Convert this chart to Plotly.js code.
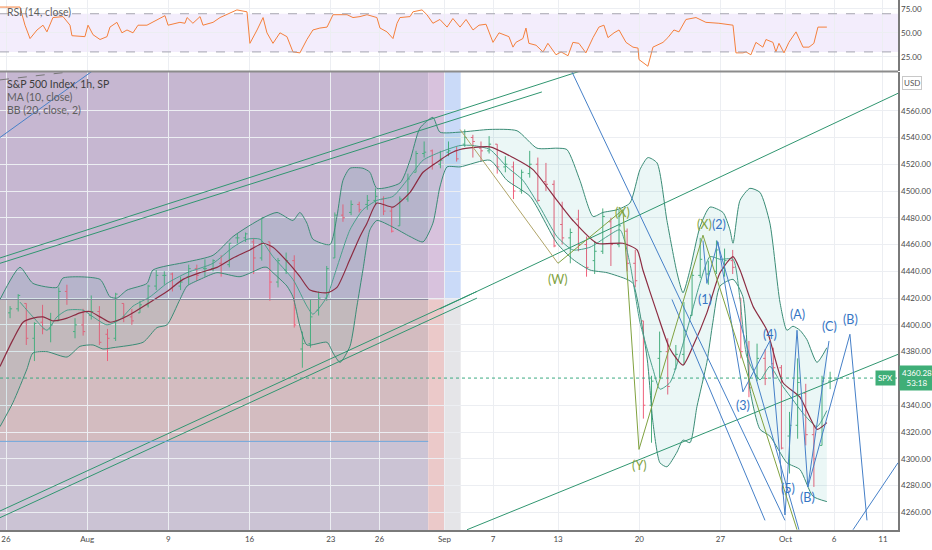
<!DOCTYPE html>
<html>
<head>
<meta charset="utf-8">
<script src="https://cdn.plot.ly/plotly-3.0.1.min.js"></script>
<style>
  html, body { margin: 0; padding: 0; background: #fff; }
  #chart { width: 932px; height: 550px; }
</style>
</head>
<body>
<div id="chart"></div>
<script>
// trading-day axis: 0 = Jul 26 ... 54 = Oct 11 (weekends and Sep 6 left out)
var tickDays = [0, 5, 10, 15, 20, 23, 27, 30, 34, 39, 44, 48, 51, 54];
var tickText = ['26', 'Aug', '9', '16', '23', '26', 'Sep', '7', '13', '20', '27', 'Oct', '6', '11'];
// price labels on the right (4360 sits under the price tag, 4580 under the USD badge)
var priceTicks = [4260, 4280, 4300, 4320, 4340, 4380, 4400, 4420, 4440, 4460, 4480, 4500, 4520, 4540, 4560];
var rsiTicks = [25, 50, 75];

// half-day bars, two per trading day from Jul 26 to Oct 5
var barOpen = [4409,4412, 4416,4390, 4402,4397, 4403,4425, 4395,4400, 4407,4410, 4393,4390, 4416,4406, 4409,4415, 4429,4437,
  4438,4429, 4436,4442, 4442,4442, 4446,4445, 4465,4465, 4462,4450, 4462,4432, 4441,4448, 4382,4386, 4411,4420,
  4450,4482, 4484,4490, 4490,4493, 4494,4485, 4474,4494, 4514,4528, 4530,4520, 4529,4530, 4535,4540, 4532,4530,
  4535,4518, 4518,4500, 4513,4520, 4507,4505, 4475,4465, 4479,4460, 4448,4455, 4477,4460, 4470,4446, 4403,4340,
  4375,4380, 4367,4378, 4407,4437, 4438,4440, 4442,4448, 4420,4380, 4362,4375, 4371,4368, 4317,4325, 4349,4318,
  4310,4358];
var barHigh = [4414,4423, 4416,4402, 4415,4409, 4428,4430, 4405,4412, 4422,4414, 4397,4424, 4416,4412, 4418,4430, 4441,4440,
  4439,4436, 4445,4445, 4449,4449, 4452,4461, 4468,4469, 4465,4480, 4462,4450, 4454,4452, 4395,4419, 4425,4444,
  4484,4490, 4493,4492, 4497,4502, 4496,4488, 4496,4513, 4530,4537, 4531,4530, 4537,4533, 4546,4542, 4537,4541,
  4535,4526, 4522,4516, 4530,4525, 4521,4508, 4492,4472, 4486,4466, 4462,4487, 4480,4486, 4472,4456, 4403,4362,
  4395,4390, 4385,4417, 4440,4465, 4448,4463, 4457,4456, 4420,4388, 4386,4382, 4383,4370, 4335,4375, 4356,4325,
  4362,4365];
var barLow = [4405,4410, 4385,4373, 4393,4387, 4403,4415, 4390,4392, 4404,4385, 4373,4388, 4402,4400, 4409,4413, 4426,4430,
  4425,4426, 4430,4433, 4436,4440, 4436,4443, 4461,4462, 4438,4448, 4418,4428, 4438,4398, 4368,4383, 4407,4418,
  4450,4477, 4482,4484, 4486,4490, 4482,4469, 4474,4492, 4514,4525, 4516,4517, 4526,4522, 4533,4525, 4522,4528,
  4513,4514, 4494,4498, 4510,4492, 4500,4458, 4460,4446, 4455,4436, 4438,4453, 4444,4458, 4440,4428, 4330,4312,
  4360,4348, 4367,4370, 4407,4435, 4430,4438, 4436,4438, 4375,4346, 4358,4355, 4360,4307, 4289,4315, 4310,4279,
  4310,4352];
var barClose = [4412,4422, 4390,4401, 4397,4400, 4425,4419, 4400,4395, 4410,4387, 4390,4423, 4406,4403, 4415,4429, 4437,4437,
  4429,4432, 4442,4437, 4442,4448, 4445,4461, 4465,4468, 4450,4480, 4432,4448, 4448,4400, 4386,4406, 4420,4442,
  4482,4480, 4490,4486, 4493,4496, 4485,4470, 4494,4509, 4528,4529, 4520,4523, 4530,4524, 4540,4537, 4530,4535,
  4518,4520, 4500,4514, 4520,4493, 4505,4459, 4465,4469, 4460,4443, 4455,4481, 4460,4474, 4446,4433, 4340,4358,
  4380,4354, 4378,4396, 4437,4449, 4440,4456, 4448,4443, 4380,4353, 4375,4360, 4368,4308, 4325,4357, 4318,4300,
  4358,4360.28];
var lastPrice = 4360.28;
var countdown = '53:18';

// indicators as [day, value]
var bbUpper = [[-0.37,4419],[0.86,4443],[1.66,4431],[3.14,4428],[3.51,4435],[5.79,4434],[6.4,4421],[6.83,4420],[7.45,4426],
  [8.68,4431],[9.05,4441],[11.15,4447],[12.75,4452],[13.98,4466],[14.84,4473],[15.83,4480],[16.69,4484],[17.67,4478],
  [18.1,4484],[18.53,4476],[18.9,4464],[19.95,4460],[20.38,4481],[20.75,4508],[21.18,4517],[21.98,4517],[22.41,4514],
  [22.84,4502],[24.26,4506],[24.88,4523],[25.49,4547],[26.29,4555],[26.72,4544],[27.96,4544],[29.8,4546],[31.47,4545],
  [32.7,4532],[33.93,4532],[34.54,4531],[35.34,4508],[36.15,4481],[36.76,4484],[37.62,4486],[38.42,4491],[39.04,4516],
  [39.53,4525],[40.09,4521],[40.7,4478],[41.32,4439],[41.69,4424],[42.12,4441],[42.73,4473],[43.35,4488],[44.15,4484],
  [44.58,4471],[44.77,4461],[45.2,4493],[45.81,4502],[46.43,4499],[47.04,4476],[47.66,4417],[48.09,4396],[48.46,4399],
  [48.89,4396],[49.32,4389],[49.94,4372],[50.55,4383]];
var bbLower = [[-0.37,4324],[0.43,4342],[1.29,4367],[1.66,4379],[2.52,4380],[3.76,4376],[4.56,4384],[5.36,4385],[5.97,4382],
  [6.59,4383],[8.44,4387],[9.3,4398],[9.91,4400],[10.71,4419],[11.15,4429],[11.95,4434],[12.99,4439],[14.41,4436],
  [15.83,4443],[16.07,4443],[16.44,4439],[17.3,4429],[17.67,4421],[18.1,4399],[18.53,4385],[19.77,4387],[20.14,4379],
  [20.57,4372],[21.18,4384],[21.61,4414],[21.98,4441],[22.41,4471],[22.84,4478],[23.83,4473],[24.88,4466],[25.68,4462],
  [26.29,4476],[26.72,4503],[27.16,4518],[27.96,4518],[29.8,4523],[30.85,4508],[32.27,4496],[33.93,4461],[34.91,4449],
  [35.96,4441],[37.01,4439],[38.24,4434],[38.61,4431],[39.47,4376],[39.84,4327],[40.27,4297],[40.7,4294],[41.32,4305],
  [41.69,4314],[42.12,4312],[42.55,4339],[43.16,4372],[43.53,4402],[43.97,4429],[44.77,4434],[45.38,4421],[45.81,4352],
  [46.43,4322],[47.04,4317],[48.09,4297],[48.89,4292],[49.69,4272],[50.55,4268]];
var bbBasis = [[-0.37,4369],[0.43,4389],[1.05,4402],[1.66,4405],[2.28,4406],[2.89,4403],[3.76,4405],[4.56,4409],[5.17,4410],
  [5.79,4406],[6.4,4402],[7.2,4405],[7.82,4409],[8.87,4417],[9.91,4425],[10.9,4434],[11.95,4439],[12.99,4443],
  [13.98,4450],[15.02,4456],[15.83,4461],[16.44,4458],[17.49,4445],[18.1,4436],[18.72,4426],[19.77,4424],[20.38,4428],
  [21.18,4449],[21.8,4466],[22.23,4476],[22.84,4491],[23.83,4488],[24.88,4499],[25.68,4514],[26.72,4523],[27.34,4528],
  [27.96,4531],[29.8,4533],[31.22,4525],[32.45,4516],[33.93,4493],[34.91,4478],[36.39,4461],[37.99,4461],[38.86,4456],
  [39.22,4441],[40.09,4409],[40.89,4382],[41.69,4370],[42.3,4384],[43.16,4409],[43.97,4439],[44.77,4451],[45.2,4441],
  [46.0,4414],[46.86,4396],[47.84,4357],[48.89,4346],[49.94,4322],[50.55,4327]];
var ma10 = [[0.86,4417],[1.66,4406],[2.52,4396],[3.14,4406],[3.76,4411],[4.74,4411],[5.36,4406],[6.22,4400],[7.02,4404],
  [7.82,4414],[8.87,4421],[9.91,4431],[11.15,4439],[12.75,4446],[13.98,4458],[14.84,4464],[15.64,4464],[16.44,4451],
  [17.67,4434],[18.53,4414],[18.9,4408],[19.77,4421],[20.14,4434],[21.18,4471],[21.98,4486],[22.84,4493],[23.83,4496],
  [24.88,4511],[25.68,4523],[26.72,4529],[27.96,4534],[28.76,4534],[29.8,4531],[30.85,4518],[31.83,4508],[32.88,4488],
  [33.93,4466],[34.91,4456],[35.96,4458],[37.01,4466],[37.81,4471],[38.42,4446],[39.04,4402],[39.84,4367],[40.27,4352],
  [40.89,4357],[41.93,4396],[42.73,4431],[43.35,4451],[43.97,4449],[44.77,4449],[45.2,4419],[45.63,4376],[46.43,4359],
  [47.04,4369],[47.84,4354],[48.46,4344],[49.08,4334],[49.94,4324],[50.55,4336]];
var rsi = [[-0.37,77],[0.86,77],[1.17,58],[1.48,44],[1.91,53],[2.28,58],[2.52,51],[2.71,58],[2.89,66],[3.51,67],[3.94,58],
  [4.06,47],[4.56,46],[4.86,46],[5.05,58],[5.36,48],[5.79,43],[6.22,46],[6.4,56],[6.83,61],[7.14,50],[7.45,53],[7.82,50],
  [8.13,58],[8.68,58],[9.79,68],[9.98,58],[10.71,61],[11.02,60],[11.15,66],[11.51,60],[11.95,67],[12.13,58],[12.75,61],
  [13.18,66],[13.79,71],[14.22,74],[14.84,72],[15.02,39],[15.46,53],[15.83,66],[16.07,50],[16.44,39],[16.87,50],[17.3,46],
  [17.67,30],[18.1,29],[18.53,43],[18.9,53],[19.33,55],[19.77,56],[20.14,69],[21.0,69],[21.37,66],[21.8,67],[22.23,69],
  [22.84,66],[23.03,55],[23.46,51],[23.83,44],[24.08,60],[24.26,66],[24.88,67],[25.06,72],[25.62,74],[25.92,69],[26.29,60],
  [26.72,64],[27.16,56],[27.52,65],[27.96,56],[28.33,64],[28.76,53],[29.13,58],[29.56,59],[29.99,40],[30.36,50],[30.97,46],
  [31.22,35],[31.4,40],[31.83,44],[32.02,55],[32.2,39],[32.64,37],[33.07,30],[33.37,39],[33.87,27],[34.18,30],[34.61,26],
  [34.91,40],[35.28,39],[35.71,29],[36.15,45],[36.51,56],[36.82,58],[37.07,45],[37.44,50],[37.75,53],[38.18,40],[38.61,35],
  [38.92,34],[38.98,22],[39.53,15],[39.84,35],[40.46,40],[40.76,45],[41.13,53],[41.44,51],[41.87,64],[42.49,66],[43.1,61],
  [43.9,60],[44.77,58],[44.95,29],[45.38,29],[45.57,30],[45.87,27],[46.18,40],[46.61,35],[46.8,43],[47.23,40],[47.41,30],
  [47.6,39],[47.91,29],[48.21,40],[48.65,51],[49.08,35],[49.45,35],[49.75,39],[50.0,56],[50.55,56]];

// drawings: trend channels and wave counts, [day, price]
var greenLines = [
  [[-0.37,4450],[35.47,4590]],
  [[-0.37,4446],[33.0,4574]],
  [[-0.37,4261],[29.0,4425]],
  [[-0.37,4256],[29.0,4420]],
  [[26.72,4412],[54.93,4573]],
  [[28.39,4247],[54.93,4378]]
];
var blueLines = [
  [[-0.37,4540],[5.36,4590]],
  [[34.85,4589],[47.97,4254]],
  [[41.01,4419],[46.74,4254]],
  [[43.78,4463],[48.83,4247]],
  [[42.92,4463],[43.16,4431],[43.84,4462],[45.38,4350],[47.04,4388],[47.97,4258],[48.71,4396],[49.38,4279],[50.68,4388]],
  [[49.38,4279],[51.97,4393],[53.02,4254]],
  [[52.16,4247],[54.93,4297]]
];
var tanLine = [[27.96,4546],[33.99,4446]];
var oliveWave = [[33.99,4446],[37.99,4486],[38.98,4307],[42.92,4467],[48.71,4247]];
var dashedLine = [[-0.37,4583],[3.94,4589]];

var oliveLabels = [['(W)',33.99,4434],['(X)',37.99,4484],['(Y)',39.04,4295],['(X)',43.04,4475]];
var blueLabels = [['(1)',43.04,4419],['(2)',43.9,4475],['(3)',45.38,4340],['(4)',47.04,4393],['(5)',48.15,4278],
  ['(A)',48.71,4408],['(B)',49.38,4271],['(C)',50.74,4399],['(B)',52.03,4404]];

// shaded zones on the left: day edges and price edges
var zoneDays = [26, 27, 28];
var zonePrices = [4419, 4313];

var col = function (pts, k) { return pts.map(function (p) { return p[k]; }); };

var barX = [];
for (var i = 0; i < barClose.length; i++) {
  barX.push(Math.floor(i / 2) + (i % 2 === 0 ? 0.25 : 0.75));
}

var GREEN = 'rgb(48,150,112)';
var BLUE = 'rgb(70,128,200)';
var OLIVE = 'rgb(128,162,64)';

var traces = [];
traces.push({ x: col(bbUpper, 0), y: col(bbUpper, 1), type: 'scatter', mode: 'lines',
  line: { color: 'rgb(58,140,118)', width: 1, shape: 'spline', smoothing: 0.6 }, xaxis: 'x', yaxis: 'y' });
traces.push({ x: col(bbLower, 0), y: col(bbLower, 1), type: 'scatter', mode: 'lines', fill: 'tonexty',
  fillcolor: 'rgba(0,150,136,0.08)',
  line: { color: 'rgb(58,140,118)', width: 1, shape: 'spline', smoothing: 0.6 }, xaxis: 'x', yaxis: 'y' });
traces.push({ x: col(ma10, 0), y: col(ma10, 1), type: 'scatter', mode: 'lines',
  line: { color: 'rgb(74,160,140)', width: 1, shape: 'spline', smoothing: 0.6 }, xaxis: 'x', yaxis: 'y' });
traces.push({ x: col(bbBasis, 0), y: col(bbBasis, 1), type: 'scatter', mode: 'lines',
  line: { color: 'rgb(140,44,66)', width: 1.2, shape: 'spline', smoothing: 0.6 }, xaxis: 'x', yaxis: 'y' });
traces.push({
  type: 'ohlc', x: barX, open: barOpen, high: barHigh, low: barLow, close: barClose,
  increasing: { line: { color: '#4fb07f', width: 1 } },
  decreasing: { line: { color: '#f0607a', width: 1 } },
  tickwidth: 0.25, xaxis: 'x', yaxis: 'y'
});

function addLine(pts, color, dash) {
  traces.push({ x: col(pts, 0), y: col(pts, 1), type: 'scatter', mode: 'lines',
    line: { color: color, width: 1, dash: dash || 'solid' }, xaxis: 'x', yaxis: 'y' });
}
greenLines.forEach(function (l) { addLine(l, GREEN); });
blueLines.forEach(function (l) { addLine(l, BLUE); });
addLine(tanLine, 'rgb(176,164,104)');
addLine(oliveWave, OLIVE);
addLine(dashedLine, '#777', 'dash');

traces.push({ x: col(rsi, 0), y: col(rsi, 1), type: 'scatter', mode: 'lines',
  line: { color: 'rgb(245,128,60)', width: 1 }, xaxis: 'x', yaxis: 'y2' });

var zoneFill = [
  // [x0, x1, yTop, yBottom, colour]
  [-1, zoneDays[0], 4600, zonePrices[0], '#c6b7d1'],
  [-1, zoneDays[0], zonePrices[0], zonePrices[1], '#d3bcc0'],
  [-1, zoneDays[0], zonePrices[1], 4200, '#cbc3d4'],
  [zoneDays[0], zoneDays[1], 4600, zonePrices[0], '#d8c2dd'],
  [zoneDays[0], zoneDays[1], zonePrices[0], 4200, '#ebc9c9'],
  [zoneDays[1], zoneDays[2], 4600, zonePrices[0], '#cadaf8'],
  [zoneDays[1], zoneDays[2], zonePrices[0], 4200, '#e5e5e8']
];
var shapes = zoneFill.map(function (z) {
  return { type: 'rect', xref: 'x', yref: 'y', x0: z[0], x1: z[1], y0: z[3], y1: z[2],
    fillcolor: z[4], line: { width: 0 }, layer: 'below' };
});
shapes.push({ type: 'line', xref: 'x', yref: 'y', x0: -1, x1: zoneDays[0], y0: zonePrices[0], y1: zonePrices[0],
  line: { color: '#85849a', width: 1 } });
shapes.push({ type: 'line', xref: 'x', yref: 'y', x0: -1, x1: zoneDays[0], y0: zonePrices[1], y1: zonePrices[1],
  line: { color: '#6fa6dc', width: 1 } });
shapes.push({ type: 'line', xref: 'paper', yref: 'y', x0: 0, x1: 1, y0: lastPrice, y1: lastPrice,
  line: { color: 'rgb(60,170,130)', width: 1, dash: 'dot' } });
// RSI band
shapes.push({ type: 'rect', xref: 'paper', yref: 'y2', x0: 0, x1: 1, y0: 30, y1: 70,
  fillcolor: 'rgba(150,90,230,0.11)', line: { width: 0 }, layer: 'below' });
[70, 30].forEach(function (v) {
  shapes.push({ type: 'line', xref: 'paper', yref: 'y2', x0: 0, x1: 1, y0: v, y1: v,
    line: { color: '#a5a5b0', width: 1, dash: 'dash' } });
});
// pane divider
shapes.push({ type: 'line', xref: 'paper', yref: 'paper', x0: 0, x1: 1, y0: 1 - 71.5 / 530, y1: 1 - 71.5 / 530,
  line: { color: '#8c8c8c', width: 2 } });

var FONT = 'Lato, "Liberation Sans", sans-serif';
var annotations = [];
oliveLabels.forEach(function (a) {
  annotations.push({ x: a[1], y: a[2], xref: 'x', yref: 'y', text: a[0], showarrow: false,
    font: { family: FONT, size: 12.5, color: OLIVE } });
});
blueLabels.forEach(function (a) {
  annotations.push({ x: a[1], y: a[2], xref: 'x', yref: 'y', text: a[0], showarrow: false,
    font: { family: FONT, size: 12.5, color: 'rgb(54,117,196)' } });
});
var legendLines = [
  ['S&P 500 Index, 1h, SP', 84, '#3d3d3d'],
  ['MA (10, close)', 97, '#5e5e5e'],
  ['BB (20, close, 2)', 110, '#5e5e5e'],
  ['RSI (14, close)', 12, '#5e5e5e']
];
legendLines.forEach(function (l) {
  annotations.push({ x: 5 / 898, y: 1 - l[1] / 530, xref: 'paper', yref: 'paper', text: l[0], showarrow: false,
    xanchor: 'left', yanchor: 'middle', font: { family: FONT, size: 10.5, color: l[2] } });
});
annotations.push({ x: 1, y: lastPrice, xref: 'paper', yref: 'y', xanchor: 'left', yanchor: 'middle', xshift: 1,
  text: lastPrice.toFixed(2) + '<br>' + countdown, showarrow: false, bgcolor: '#3fae77', borderpad: 2,
  align: 'center', font: { family: FONT, size: 8, color: '#ffffff' } });
annotations.push({ x: 1, y: lastPrice, xref: 'paper', yref: 'y', xanchor: 'right', yanchor: 'middle', xshift: -2,
  text: 'SPX', showarrow: false, bgcolor: '#3fae77', borderpad: 2,
  font: { family: FONT, size: 8, color: '#ffffff' } });
annotations.push({ x: 1 + 14 / 898, y: 1 - 83 / 530, xref: 'paper', yref: 'paper', xanchor: 'center', yanchor: 'middle',
  text: 'USD', showarrow: false, bgcolor: '#ffffff', bordercolor: '#c8c8c8', borderwidth: 1, borderpad: 1,
  font: { family: FONT, size: 8, color: '#555' } });

var axisFont = { family: FONT, size: 8, color: '#4a4a4a' };
var layout = {
  width: 932, height: 550,
  margin: { l: 0, r: 34, t: 0, b: 20 },
  paper_bgcolor: '#ffffff', plot_bgcolor: '#ffffff',
  showlegend: false, hovermode: false,
  xaxis: {
    type: 'linear', range: [-0.37, 54.93], anchor: 'y',
    tickmode: 'array', tickvals: tickDays, ticktext: tickText, ticks: '',
    tickfont: axisFont, showgrid: true, gridcolor: '#eceef2', zeroline: false,
    showline: true, linecolor: '#7a7a7a', linewidth: 2,
    rangeslider: { visible: false }
  },
  yaxis: {
    domain: [0, 1 - 72 / 530], range: [4246.8, 4588.9], side: 'right', anchor: 'x',
    tickmode: 'array', tickvals: priceTicks, tickformat: '.2f', ticks: '', tickfont: axisFont,
    showgrid: true, gridcolor: '#eceef2', zeroline: false,
    showline: true, linecolor: '#7a7a7a', linewidth: 1.5
  },
  yaxis2: {
    domain: [1 - 71 / 530, 1], range: [10, 84.4], side: 'right', anchor: 'x',
    tickmode: 'array', tickvals: rsiTicks, tickformat: '.2f', ticks: '', tickfont: axisFont,
    showgrid: true, gridcolor: '#eceef2', zeroline: false,
    showline: true, linecolor: '#7a7a7a', linewidth: 1.5
  },
  shapes: shapes,
  annotations: annotations
};

Plotly.newPlot('chart', traces, layout, { staticPlot: true, displayModeBar: false });
</script>
</body>
</html>
